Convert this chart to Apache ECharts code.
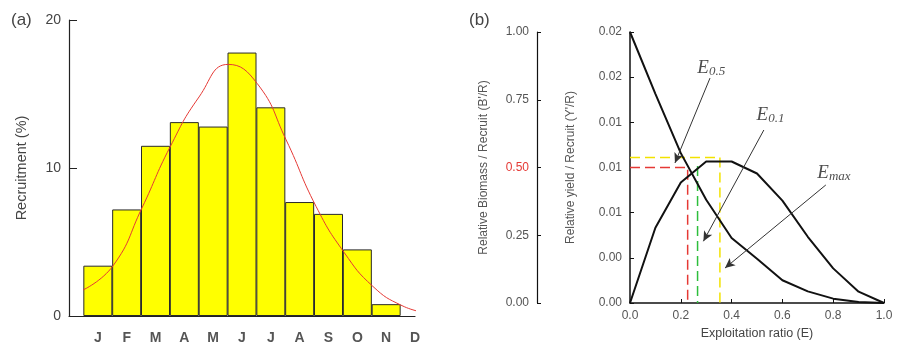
<!DOCTYPE html>
<html><head><meta charset="utf-8">
<script src="https://cdn.jsdelivr.net/npm/echarts@6/dist/echarts.min.js"></script>
<style>html,body{margin:0;padding:0;background:#fff}#c{width:898px;height:349px}</style>
</head><body><div id="c"></div>
<script>
// ---- Panel (a) data ----
var months = ['J','F','M','A','M','J','J','A','S','O','N','D'];
var recruitment = [3.4, 7.2, 11.5, 13.1, 12.8, 17.8, 14.1, 7.7, 6.9, 4.5, 0.8];
var curveX = [-0.51, 0.53, 1.53, 2.5, 3.51, 4.52, 5.53, 6.53, 7.57, 8.54, 9.54, 10.55, 11.42];
var curveY = [1.76, 3.4, 7.3, 11.4, 14.8, 17.0, 15.7, 11.9, 7.4, 4.3, 2.0, 0.7, 0.2];
var aTicks = [0, 10, 20];
// ---- Panel (b) data ----
var exploitation = [0, 0.1, 0.2, 0.3, 0.4, 0.5, 0.6, 0.7, 0.8, 0.9, 1.0];
var relYield = [0, 0.0050, 0.0080, 0.0094, 0.0094, 0.0086, 0.0068, 0.0044, 0.0023, 0.00075, 0];
var relBiomass = [1.0, 0.772, 0.553, 0.381, 0.24, 0.163, 0.084, 0.043, 0.016, 0.004, 0];
var E05 = 0.227, E01 = 0.266, Emax = 0.354;
var halfBiomass = 0.5, maxYieldLevel = 0.00967, e01Yield = 0.0091;
var labelE05 = [0.320, 0.01562], labelE01 = [0.553, 0.01249], labelEmax = [0.803, 0.00861];
var arrowE05 = [[0.315, 0.01494], [0.177, 0.0093]];
var arrowE01 = [[0.527, 0.01149], [0.289, 0.0041]];
var arrowEmax = [[0.771, 0.00784], [0.374, 0.00232]];

var gray = '#444';
var chart = echarts.init(document.getElementById('c'));
function dashed(points, color, yIdx) {
  return {type:'line', xAxisIndex:1, yAxisIndex:yIdx, data:points, symbol:'none', silent:true,
    lineStyle:{color:color, width:1.5, type:[10,5]}, z:1};
}
function eLabel(pos, sub) {
  return {type:'scatter', xAxisIndex:1, yAxisIndex:1, data:[pos], symbolSize:0, silent:true,
    label:{show:true, position:'inside', formatter:'{e|E}{s|' + sub + '}',
      rich:{e:{fontFamily:'Liberation Serif', fontStyle:'italic', fontSize:19, color:'#222'},
            s:{fontFamily:'Liberation Serif', fontStyle:'italic', fontSize:13, color:'#222', padding:[7,0,0,0]}}}};
}
function fmt2(v) {
  var thousandths = Math.round(v * 1000);
  return (Math.round(thousandths / 10) / 100).toFixed(2);
}
var option = {
  animation:false,
  textStyle:{fontFamily:'Liberation Sans, Arial, sans-serif'},
  graphic:[
    {type:'text', left:11, top:12, style:{text:'(a)', fontSize:17, fill:gray, fontFamily:'Liberation Sans'}},
    {type:'text', left:469, top:12, style:{text:'(b)', fontSize:17, fill:gray, fontFamily:'Liberation Sans'}}
  ],
  grid:[
    {left:69, top:20, width:346, height:296},
    {left:630, top:32, width:254, height:271}
  ],
  xAxis:[
    {gridIndex:0, type:'value', min:-1, max:11, interval:1,
     axisLine:{onZero:false, lineStyle:{color:'#222', width:1.2}}, axisTick:{show:false}, splitLine:{show:false},
     axisLabel:{margin:15, fontSize:14, fontWeight:'bold', color:'#555', showMinLabel:true, showMaxLabel:true,
       formatter:function(v){ var i = Math.round(v); return (i>=0 && i<months.length) ? months[i] : ''; }}},
    {gridIndex:1, type:'value', min:0, max:1, interval:0.2,
     axisLine:{onZero:false, lineStyle:{color:'#111', width:1.5}}, axisTick:{inside:true, length:4, lineStyle:{color:'#111'}},
     splitLine:{show:false},
     axisLabel:{margin:7, fontSize:12, color:'#555', formatter:function(v){return v.toFixed(1);}},
     name:'Exploitation ratio (E)', nameLocation:'middle', nameGap:22, nameTextStyle:{fontSize:12.5, color:gray}}
  ],
  yAxis:[
    {gridIndex:0, type:'value', min:aTicks[0], max:aTicks[2], interval:10,
     axisLine:{show:true, onZero:false, lineStyle:{color:'#222', width:1.2}}, axisTick:{show:true, inside:true, length:8, lineStyle:{color:'#222'}},
     splitLine:{show:false},
     axisLabel:{margin:8, fontSize:14, color:gray},
     name:'Recruitment (%)', nameLocation:'middle', nameGap:40, nameTextStyle:{fontSize:14.5, color:gray}},
    {gridIndex:1, type:'value', position:'left', min:0, max:0.018, interval:0.003,
     axisLine:{show:true, onZero:false, lineStyle:{color:'#111', width:1.5}}, axisTick:{show:true, inside:true, length:4, lineStyle:{color:'#111'}},
     splitLine:{show:false},
     axisLabel:{margin:8, fontSize:12, color:'#555', formatter:fmt2},
     name:"Relative yield / Recruit (Y'/R)", nameLocation:'middle', nameGap:53, nameTextStyle:{fontSize:12, color:'#555'}},
    {gridIndex:1, type:'value', position:'left', offset:93, min:0, max:1, interval:0.25,
     axisLine:{show:true, onZero:false, lineStyle:{color:'#111', width:1.2}}, axisTick:{show:true, inside:true, length:4, lineStyle:{color:'#111'}},
     splitLine:{show:false},
     axisLabel:{margin:8, fontSize:12, formatter:function(v){return v.toFixed(2);},
       color:function(v){ return Math.abs(parseFloat(v) - halfBiomass) < 1e-6 ? '#E53935' : '#555'; }},
     name:"Relative Biomass / Recruit (B'/R)", nameLocation:'middle', nameGap:47, nameTextStyle:{fontSize:12, color:'#555'}}
  ],
  series:[
    {type:'bar', xAxisIndex:0, yAxisIndex:0, barWidth:29,
     data:recruitment.map(function(v,i){return [i,v];}),
     itemStyle:{color:'#FFFF00', borderColor:'#2a2a2a', borderWidth:1}},
    {type:'line', xAxisIndex:0, yAxisIndex:0, clip:false, smooth:0.5, symbol:'none',
     data:curveX.map(function(x,i){return [x, curveY[i]];}),
     lineStyle:{color:'#E53935', width:1}, z:5},
    dashed([[0,halfBiomass],[E05,halfBiomass],[E05,0]], '#E53935', 2),
    dashed([[0,maxYieldLevel],[Emax,maxYieldLevel],[Emax,0]], '#F2E200', 1),
    dashed([[E01,e01Yield],[E01,0]], '#2DBE3C', 1),
    {type:'line', xAxisIndex:1, yAxisIndex:2, symbol:'none',
     data:exploitation.map(function(x,i){return [x, relBiomass[i]];}),
     lineStyle:{color:'#111', width:2}, z:3},
    {type:'line', xAxisIndex:1, yAxisIndex:1, symbol:'none',
     data:exploitation.map(function(x,i){return [x, relYield[i]];}),
     lineStyle:{color:'#111', width:2}, z:3,
     markLine:{silent:true, symbol:['none','arrow'], symbolSize:[7,10], animation:false,
       label:{show:false}, lineStyle:{color:'#333', width:1, type:'solid'},
       data:[
         [{coord:arrowE05[0]},{coord:arrowE05[1]}],
         [{coord:arrowE01[0]},{coord:arrowE01[1]}],
         [{coord:arrowEmax[0]},{coord:arrowEmax[1]}]
       ]}},
    eLabel(labelE05, '0.5'),
    eLabel(labelE01, '0.1'),
    eLabel(labelEmax, 'max')
  ]
};
chart.setOption(option);
</script>
</body></html>
